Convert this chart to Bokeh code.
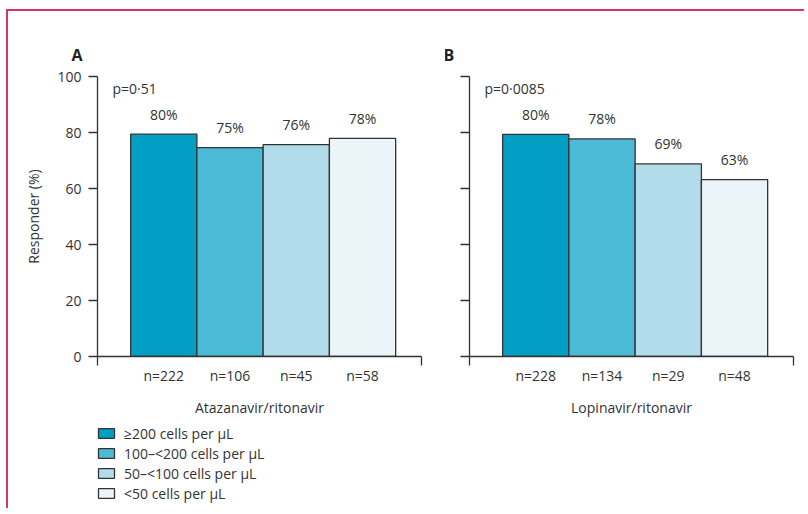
from bokeh.plotting import figure
from bokeh.layouts import row, column
from bokeh.models import Range1d, FixedTicker, Label, Legend, LegendItem, ColumnDataSource, Spacer
from bokeh.embed import file_html
from bokeh.resources import INLINE

groups = ["≥200 cells per μL", "100–<200 cells per μL", "50–<100 cells per μL", "<50 cells per μL"]
colors = ["#009fc3", "#4bbad6", "#b3dcea", "#ebf5f9"]
positions = [1, 2, 3, 4]

ata_resp = [79.4, 74.6, 75.7, 77.9]
ata_labels = ["80%", "75%", "76%", "78%"]
ata_n = ["n=222", "n=106", "n=45", "n=58"]

lpv_resp = [79.3, 77.7, 68.8, 63.2]
lpv_labels = ["80%", "78%", "69%", "63%"]
lpv_n = ["n=228", "n=134", "n=29", "n=48"]

y_ticks = [0, 20, 40, 60, 80, 100]

FONT = "Open Sans"
TXT = "#333333"
PINK = "#d8336b"
H = 411


def bars(p, resp, labels):
    src = ColumnDataSource(dict(x=positions, top=resp, color=colors, lab=labels))
    r = p.vbar(x="x", top="top", width=1.0, bottom=0, fill_color="color", line_color="#333333",
               line_width=1.3, source=src)
    return r, src


def panel(resp, labels, ns, drug, pval, letter, width, bl, br, ylab):
    p = figure(width=width, height=H, x_range=Range1d(0, 4.89), y_range=Range1d(0, 100),
               output_backend="svg", toolbar_location=None,
               min_border_left=bl, min_border_right=br, min_border_top=65, min_border_bottom=H - 345)
    p.outline_line_color = None
    p.xgrid.visible = False
    p.ygrid.visible = False
    r, src = bars(p, resp, labels)
    p.text(x="x", y="top", text="lab", source=src, text_align="center", text_baseline="middle",
           y_offset=-20, text_font_size="14px", text_color=TXT, text_font={"value": FONT})

    xa = p.xaxis[0]
    xa.ticker = FixedTicker(ticks=positions, minor_ticks=[0, 4.89])
    xa.major_label_overrides = {pos: n for pos, n in zip(positions, ns)}
    xa.major_tick_out = 0
    xa.major_tick_in = 0
    xa.minor_tick_out = 9
    xa.minor_tick_in = 0
    xa.major_label_standoff = 0
    xa.axis_label = drug
    xa.axis_label_standoff = 10

    ya = p.yaxis[0]
    ya.ticker = FixedTicker(ticks=y_ticks, minor_ticks=[])
    ya.major_tick_out = 9
    ya.major_tick_in = 0
    ya.minor_tick_out = 0
    ya.minor_tick_in = 0
    ya.major_label_standoff = 7
    if ylab:
        ya.axis_label = "Responder (%)"
        ya.axis_label_standoff = 11
    else:
        ya.major_label_text_alpha = 0

    for ax in (xa, ya):
        ax.axis_line_color = "#333333"
        ax.axis_line_width = 1.3
        ax.major_tick_line_color = "#333333"
        ax.major_tick_line_width = 1.3
        ax.minor_tick_line_color = "#333333"
        ax.minor_tick_line_width = 1.3
        ax.major_label_text_font = FONT
        ax.major_label_text_font_size = "14px"
        ax.major_label_text_color = TXT
        ax.axis_label_text_font = FONT
        ax.axis_label_text_font_size = "14px"
        ax.axis_label_text_font_style = "normal"
        ax.axis_label_text_color = TXT

    p.title.text = letter
    p.title.align = "left"
    p.title.offset = -26
    p.title.standoff = 21
    p.title.text_font = FONT
    p.title.text_font_size = "16px"
    p.title.text_font_style = "bold"
    p.title.text_color = "#222222"

    p.add_layout(Label(x=15, y=268, x_units="screen", y_units="screen", text=pval,
                       text_baseline="middle", text_font=FONT, text_font_size="14px", text_color=TXT))
    return p


pa = panel(ata_resp, ata_labels, ata_n, "Atazanavir/ritonavir", "p=0·51", "A", 437, 89, 24, True)
pb = panel(lpv_resp, lpv_labels, lpv_n, "Lopinavir/ritonavir", "p=0·0085", "B", 359, 24, 11, False)

# legend strip below panel A (its bar renderer is hidden; only the legend shows)
pl = figure(width=437, height=88, x_range=Range1d(0, 4.89), y_range=Range1d(0, 100),
            output_backend="svg", toolbar_location=None, x_axis_location=None, y_axis_location=None,
            min_border=0)
pl.outline_line_color = None
pl.xgrid.visible = False
pl.ygrid.visible = False
rl, _ = bars(pl, ata_resp, ata_labels)
rl.visible = False
legend = Legend(items=[LegendItem(label=g, renderers=[rl], index=i) for i, g in enumerate(groups)],
                location=(88, 7), orientation="vertical", glyph_width=20, glyph_height=12,
                label_height=20, spacing=0, padding=0, margin=0, border_line_color=None,
                background_fill_alpha=0, label_standoff=8, inactive_fill_alpha=0,
                label_text_font=FONT, label_text_font_size="14px", label_text_color=TXT)
pl.add_layout(legend, "center")

pink_top = Spacer(width=798, height=2, styles={"background-color": PINK})
pink_left = Spacer(width=2, height=497, styles={"background-color": PINK})

layout = row(
    Spacer(width=6, height=508),
    column(
        Spacer(width=798, height=9),
        pink_top,
        row(pink_left, column(row(pa, pb), pl)),
    ),
)
open("out.html", "w").write(file_html(layout, INLINE))
